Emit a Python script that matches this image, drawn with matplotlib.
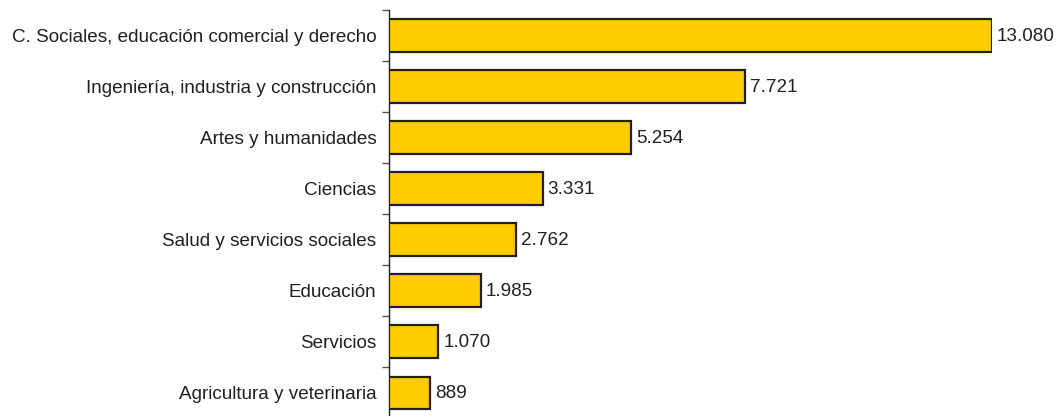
import matplotlib
matplotlib.use('Agg')
import matplotlib.pyplot as plt
import numpy as np

categorias = ['C. Sociales, educación comercial y derecho',
              'Ingeniería, industria y construcción',
              'Artes y humanidades',
              'Ciencias',
              'Salud y servicios sociales',
              'Educación',
              'Servicios',
              'Agricultura y veterinaria']
valores = [13080, 7721, 5254, 3331, 2762, 1985, 1070, 889]
etiquetas = ['13.080', '7.721', '5.254', '3.331', '2.762', '1.985', '1.070', '889']

plt.rcParams['font.family'] = ['Liberation Sans', 'DejaVu Sans']
texto = '#231f20'
fs = 13.6

fig = plt.figure(figsize=(10.6, 4.16), dpi=100)
ax = fig.add_axes([389/1060, -0.005, 603/1060, 0.981])

y = np.arange(len(categorias))
ax.barh(y, valores, height=0.63, color='#ffcc00', edgecolor=texto, linewidth=1.6, zorder=3)
for yi, v, t in zip(y, valores, etiquetas):
    ax.annotate(t, (v, yi), xytext=(3.5, -0.5), textcoords='offset points',
                va='center', ha='left', fontsize=fs, color=texto, annotation_clip=False)

ax.set_xlim(0, 13080)
ax.set_ylim(len(categorias) - 0.5, -0.5)
ax.set_yticks(y)
ax.set_yticklabels(categorias, fontsize=fs, color=texto)
ax.tick_params(axis='y', which='major', length=0, pad=9)
ax.set_yticks(np.arange(len(categorias) + 1) - 0.5, minor=True)
ax.tick_params(axis='y', which='minor', length=5, color='#555555', width=1)
ax.set_xticks([])
for s in ['top', 'right', 'bottom']:
    ax.spines[s].set_visible(False)
ax.spines['left'].set_color(texto)
ax.spines['left'].set_linewidth(1)

plt.savefig('out.png', dpi=100)
